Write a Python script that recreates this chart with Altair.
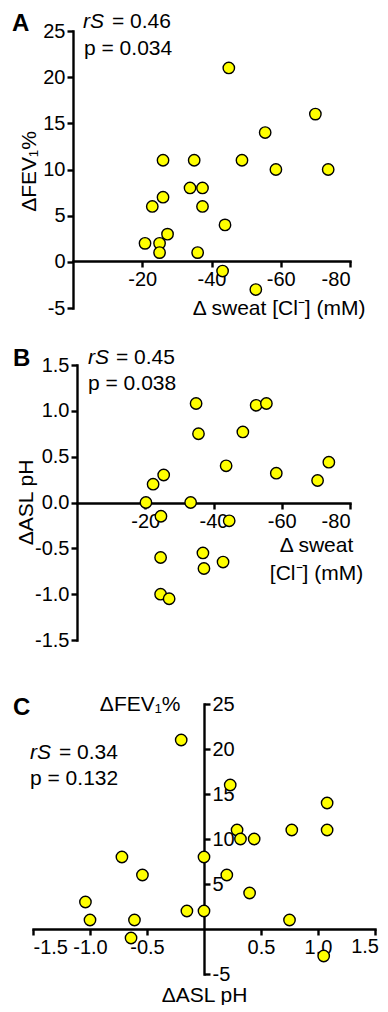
import altair as alt
import pandas as pd

FONT = "Liberation Sans"

# ---------------- data ----------------
# Panel A: delta sweat [Cl-] vs delta FEV1 %
a_sweat = [-45, -70, -55.5, -26, -35, -48.8, -58.6, -73.7, -33.8, -37.4, -26,
           -22.9, -37.4, -43.9, -27.3, -20.8, -25, -25, -36, -43.2, -52.8]
a_fev = [21, 16, 14, 11, 11, 11, 10, 10, 8, 8, 7,
         6, 6, 4, 3, 2, 2, 1, 1, -1, -3]

# Panel B: delta sweat [Cl-] vs delta ASL pH
b_sweat = [-34.9, -52.5, -55.5, -35.6, -48.6, -43.7, -73.8, -58.4, -70.5, -25.4, -22.3,
           -20.2, -33.3, -24.6, -44.6, -36.9, -37.2, -42.8, -24.5, -24.5, -27]
b_ph = [1.08, 1.06, 1.08, 0.75, 0.77, 0.40, 0.44, 0.32, 0.24, 0.30, 0.20,
        0.0, 0.0, -0.15, -0.20, -0.55, -0.72, -0.65, -0.60, -1.0, -1.05]

# Panel C: delta ASL pH vs delta FEV1 %
c_ph = [-0.2, 0.23, 1.08, 0.29, 0.77, 1.08, 0.32, 0.44, -0.72, 0.0, -0.54,
        0.2, 0.4, -1.04, -0.15, 0.0, -1.0, -0.61, 0.75, -0.64, 1.05]
c_fev = [21, 16, 14, 11, 11, 11, 10, 10, 8, 8, 6,
         6, 4, 3, 2, 2, 1, 1, 1, -1, -3]

a_ticks_x = [-20, -40, -60, -80]
a_ticks_y = [25, 20, 15, 10, 5, 0, -5]
b_ticks_y = [1.5, 1.0, 0.5, 0.0, -0.5, -1.0, -1.5]
c_ticks_x = [-1.5, -1.0, -0.5, 0.5, 1.0, 1.5]
c_ticks_y = [25, 20, 15, 10, 5, -5]
c_last_label = "1.5"  # drawn as text so it stays inside the page edge

stats_a = ["rS", "= 0.46", "p = 0.034"]
stats_b = ["rS", "= 0.45", "p = 0.038"]
stats_c = ["rS", "= 0.34", "p = 0.132"]

W = 342
ANN = 21

INT_LBL = "'' + datum.value"
DEC_LBL = "datum.value < 0 ? '-' + format(-datum.value, '.1f') : format(datum.value, '.1f')"
DEC_LBL_C = "datum.value >= 1.5 ? '' : (" + DEC_LBL + ")"

base_axis = dict(
    grid=False, domainColor="black", domainWidth=2.4, tickColor="black",
    tickWidth=2.4, tickSize=6, labelColor="black", labelFont=FONT,
    labelFontSize=20, labelPadding=2, titleFont=FONT, titleFontSize=21,
    titleFontWeight="normal", titleColor="black", domainCap="square",
)


def txt(s, x, y, size=ANN, weight="normal", style="normal", align="left",
        baseline="alphabetic"):
    return alt.Chart(pd.DataFrame({"t": [s]})).mark_text(
        align=align, baseline=baseline, font=FONT, fontSize=size,
        fontWeight=weight, fontStyle=style, color="black"
    ).encode(x=alt.value(x), y=alt.value(y), text="t:N")


def points(df, xf, yf, xscale, yscale, xaxis, yaxis):
    return alt.Chart(df).mark_circle(
        size=130, fill="#FFFF00", stroke="black", strokeWidth=1.4, opacity=1
    ).encode(
        x=alt.X(f"{xf}:Q", scale=xscale, axis=xaxis),
        y=alt.Y(f"{yf}:Q", scale=yscale, axis=yaxis),
    )


# ---------------- Panel A ----------------
dfA = pd.DataFrame({"sweat": a_sweat, "fev": a_fev})
HA = 277
ptsA = points(
    dfA, "sweat", "fev",
    alt.Scale(domain=[0, -80], range=[40, 317], nice=False, zero=False),
    alt.Scale(domain=[-5, 25], nice=False, zero=False),
    alt.Axis(values=a_ticks_x, offset=-47, labelExpr=INT_LBL,
             title="Δ sweat [Cl⁻] (mM)", titleX=332, titleY=53,
             titleAlign="right", titleBaseline="alphabetic", titleAnchor="end",
             **base_axis),
    alt.Axis(values=a_ticks_y, offset=-40, labelExpr=INT_LBL,
             title="ΔFEV₁%", titleX=-38, titleY=140, titleAngle=-90,
             titleAlign="center", titleBaseline="alphabetic", **base_axis),
)
panelA = alt.layer(
    ptsA,
    txt("A", -21, 0, size=24, weight="bold"),
    txt(stats_a[0], 50, -3, style="italic"),
    txt(stats_a[1], 79, -3),
    txt(stats_a[2], 51, 24),
).properties(width=W, height=HA)

# ---------------- Panel B ----------------
dfB = pd.DataFrame({"sweat": b_sweat, "ph": b_ph})
HB = 282
ptsB = points(
    dfB, "sweat", "ph",
    alt.Scale(domain=[0, -80], range=[44, 317], nice=False, zero=False),
    alt.Scale(domain=[-1.5, 1.5], range=[275, 0], nice=False, zero=False),
    alt.Axis(values=a_ticks_x, offset=-144, labelExpr=INT_LBL,
             title=["Δ sweat", "[Cl⁻] (mM)"], titleX=283, titleY=48,
             titleAlign="center", titleBaseline="alphabetic", titleLineHeight=28,
             **base_axis),
    alt.Axis(values=b_ticks_y, offset=-44, labelExpr=DEC_LBL,
             title="ΔASL pH", titleX=-45, titleY=137, titleAngle=-90,
             titleAlign="center", titleBaseline="alphabetic", **base_axis),
)
panelB = alt.layer(
    ptsB,
    txt("B", -20, 1, size=24, weight="bold"),
    txt(stats_b[0], 55, -1, style="italic"),
    txt(stats_b[1], 83, -1),
    txt(stats_b[2], 55, 25),
).properties(width=W, height=HB)

# ---------------- Panel C ----------------
dfC = pd.DataFrame({"ph": c_ph, "fev": c_fev})
HC = 270
ptsC = points(
    dfC, "ph", "fev",
    alt.Scale(domain=[-1.5, 1.5], nice=False, zero=False),
    alt.Scale(domain=[-5, 25], nice=False, zero=False),
    alt.Axis(values=c_ticks_x, offset=-45, labelExpr=DEC_LBL_C,
             title="ΔASL pH", titleX=171, titleY=72, titleAlign="center",
             titleBaseline="alphabetic", **base_axis),
    alt.Axis(values=c_ticks_y, orient="right", offset=-171, labelExpr=INT_LBL,
             title="ΔFEV₁%", titleX=-24, titleY=6, titleAngle=0,
             titleAlign="right", titleBaseline="alphabetic", **base_axis),
)
panelC = alt.layer(
    ptsC,
    txt("C", -20, 11, size=24, weight="bold"),
    txt(stats_c[0], -3, 55, style="italic"),
    txt(stats_c[1], 26, 55),
    txt(stats_c[2], -3, 81),
    txt(c_last_label, 346, 233, size=20, align="right", baseline="top"),
).properties(width=W, height=HC)

chart = alt.vconcat(panelA, panelB, panelC, spacing=57, bounds="flush").configure_view(
    stroke=None
).properties(padding={"left": 4, "top": 3, "right": 0, "bottom": 0})

chart.save("out.html", embed_options={"renderer": "svg", "actions": False})
